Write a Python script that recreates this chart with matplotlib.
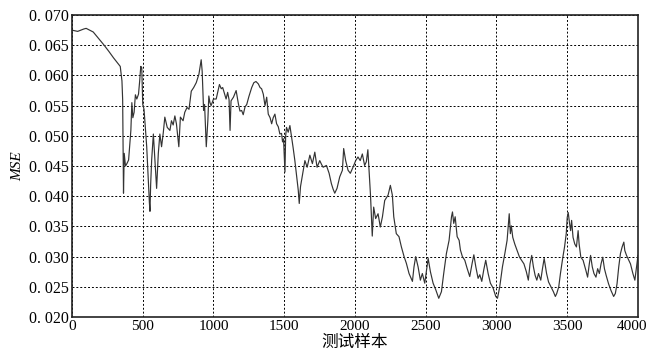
import matplotlib.pyplot as plt
import matplotlib.transforms as mtransforms
from matplotlib.ticker import FixedLocator

# values (test sample index, MSE)
samples = [
    0, 40, 84, 100, 150, 224, 260, 294, 341, 353, 358, 364, 369, 378, 388, 400,
    416, 423, 430, 439, 448, 458, 470, 478, 486, 493, 500, 509, 528, 547, 551, 556,
    563, 575, 586, 598, 610, 621, 633, 645, 656, 673, 692, 703, 715, 727, 738, 755,
    766, 785, 797, 813, 827, 843, 860, 878, 897, 913, 920, 930, 937, 949, 960, 967,
    975, 983, 1000, 1019, 1042, 1055, 1065, 1080, 1089, 1100, 1110, 1117, 1124, 1141, 1160, 1176,
    1187, 1199, 1210, 1223, 1235, 1250, 1270, 1285, 1300, 1317, 1329, 1340, 1352, 1364, 1376, 1387,
    1400, 1411, 1422, 1434, 1446, 1458, 1469, 1481, 1488, 1495, 1505, 1510, 1516, 1528, 1540, 1552,
    1563, 1575, 1587, 1599, 1606, 1615, 1625, 1634, 1646, 1662, 1681, 1699, 1716, 1732, 1751, 1765,
    1775, 1798, 1817, 1833, 1845, 1857, 1873, 1892, 1911, 1920, 1934, 1951, 1967, 1986, 2005, 2021,
    2037, 2052, 2068, 2080, 2091, 2098, 2110, 2116, 2122, 2132, 2146, 2163, 2179, 2194, 2210, 2234,
    2250, 2264, 2274, 2292, 2311, 2328, 2347, 2363, 2382, 2406, 2417, 2429, 2446, 2462, 2476, 2493,
    2509, 2517, 2533, 2552, 2571, 2592, 2611, 2627, 2646, 2665, 2682, 2689, 2698, 2708, 2722, 2736,
    2745, 2759, 2776, 2792, 2811, 2828, 2840, 2854, 2870, 2882, 2896, 2910, 2924, 2941, 2957, 2976,
    2995, 3007, 3023, 3042, 3059, 3075, 3090, 3098, 3105, 3115, 3129, 3146, 3163, 3177, 3194, 3211,
    3225, 3237, 3249, 3261, 3273, 3285, 3297, 3313, 3325, 3337, 3354, 3368, 3385, 3402, 3416, 3426,
    3440, 3452, 3469, 3481, 3493, 3500, 3507, 3517, 3524, 3531, 3541, 3553, 3565, 3577, 3584, 3596,
    3612, 3632, 3644, 3656, 3665, 3677, 3689, 3703, 3715, 3727, 3739, 3751, 3763, 3775, 3792, 3809,
    3828, 3840, 3852, 3864, 3876, 3888, 3900, 3907, 3919, 3935, 3947, 3964, 3978, 3990, 4000,
]
mse = [
    0.0675, 0.0673, 0.0677, 0.0678, 0.0672, 0.0651, 0.0640, 0.0629, 0.0615, 0.0591, 0.0560, 0.0405, 0.0471, 0.0450, 0.0454, 0.0460,
    0.0509, 0.0555, 0.0530, 0.0539, 0.0568, 0.0561, 0.0569, 0.0590, 0.0615, 0.0613, 0.0552, 0.0544, 0.0482, 0.0389, 0.0375, 0.0420,
    0.0460, 0.0503, 0.0460, 0.0413, 0.0471, 0.0503, 0.0482, 0.0505, 0.0531, 0.0514, 0.0509, 0.0525, 0.0518, 0.0533, 0.0520, 0.0482,
    0.0531, 0.0525, 0.0539, 0.0547, 0.0544, 0.0574, 0.0580, 0.0588, 0.0602, 0.0626, 0.0607, 0.0542, 0.0552, 0.0482, 0.0525, 0.0566,
    0.0555, 0.0550, 0.0561, 0.0561, 0.0585, 0.0578, 0.0580, 0.0568, 0.0561, 0.0572, 0.0560, 0.0509, 0.0558, 0.0564, 0.0575, 0.0553,
    0.0541, 0.0542, 0.0535, 0.0548, 0.0552, 0.0565, 0.0580, 0.0588, 0.0590, 0.0586, 0.0580, 0.0578, 0.0569, 0.0550, 0.0564, 0.0536,
    0.0530, 0.0520, 0.0530, 0.0536, 0.0520, 0.0515, 0.0503, 0.0504, 0.0490, 0.0495, 0.0440, 0.0500, 0.0514, 0.0506, 0.0517, 0.0498,
    0.0480, 0.0459, 0.0435, 0.0410, 0.0388, 0.0416, 0.0430, 0.0443, 0.0459, 0.0448, 0.0468, 0.0454, 0.0473, 0.0448, 0.0459, 0.0452,
    0.0448, 0.0451, 0.0438, 0.0421, 0.0412, 0.0405, 0.0413, 0.0432, 0.0443, 0.0479, 0.0459, 0.0443, 0.0438, 0.0448, 0.0459, 0.0465,
    0.0459, 0.0470, 0.0451, 0.0457, 0.0477, 0.0448, 0.0400, 0.0366, 0.0334, 0.0382, 0.0363, 0.0371, 0.0349, 0.0366, 0.0393, 0.0402,
    0.0418, 0.0402, 0.0366, 0.0338, 0.0333, 0.0316, 0.0300, 0.0289, 0.0272, 0.0259, 0.0283, 0.0300, 0.0283, 0.0261, 0.0272, 0.0256,
    0.0283, 0.0297, 0.0275, 0.0256, 0.0245, 0.0231, 0.0242, 0.0272, 0.0305, 0.0327, 0.0366, 0.0374, 0.0355, 0.0366, 0.0333, 0.0327,
    0.0311, 0.0300, 0.0294, 0.0281, 0.0267, 0.0289, 0.0303, 0.0283, 0.0264, 0.0270, 0.0259, 0.0278, 0.0294, 0.0272, 0.0256, 0.0248,
    0.0234, 0.0231, 0.0250, 0.0283, 0.0305, 0.0327, 0.0371, 0.0338, 0.0351, 0.0332, 0.0321, 0.0310, 0.0299, 0.0294, 0.0288, 0.0275,
    0.0261, 0.0288, 0.0302, 0.0283, 0.0269, 0.0261, 0.0272, 0.0261, 0.0280, 0.0297, 0.0272, 0.0258, 0.0250, 0.0242, 0.0234, 0.0239,
    0.0250, 0.0272, 0.0299, 0.0316, 0.0338, 0.0365, 0.0373, 0.0354, 0.0343, 0.0360, 0.0332, 0.0321, 0.0316, 0.0343, 0.0321, 0.0299,
    0.0294, 0.0277, 0.0266, 0.0288, 0.0302, 0.0283, 0.0272, 0.0266, 0.0280, 0.0272, 0.0288, 0.0299, 0.0280, 0.0269, 0.0255, 0.0244,
    0.0234, 0.0239, 0.0255, 0.0283, 0.0305, 0.0316, 0.0324, 0.0310, 0.0302, 0.0294, 0.0288, 0.0272, 0.0261, 0.0283, 0.0302,
]

xticks = [0, 500, 1000, 1500, 2000, 2500, 3000, 3500, 4000]
yticks = [0.020, 0.025, 0.030, 0.035, 0.040, 0.045, 0.050, 0.055, 0.060, 0.065, 0.070]
ytick_labels = ["0. 020", "0. 025", "0. 030", "0. 035", "0. 040", "0. 045",
                "0. 050", "0. 055", "0. 060", "0. 065", "0. 070"]

fig = plt.figure(figsize=(6.51, 3.59), dpi=100)
ax = fig.add_axes([0.1106, 0.117, 0.8694, 0.841])

ax.plot(samples, mse, color="#333333", lw=0.85)

ax.set_xlim(0, 4000)
ax.set_ylim(0.020, 0.070)
ax.xaxis.set_major_locator(FixedLocator(xticks))
ax.yaxis.set_major_locator(FixedLocator(yticks))
ax.set_xticklabels([str(t) for t in xticks], family="Liberation Serif", fontsize=11)
ax.set_yticklabels(ytick_labels, family="Liberation Serif", fontsize=11.5)
ax.tick_params(length=0, pad=2)

# the last x label sits a little left of its tick in the original, inside the figure
last = ax.get_xticklabels()[-1]
last.set_transform(last.get_transform() + mtransforms.ScaledTranslation(-6 / 100, 0, fig.dpi_scale_trans))

ax.grid(True, color="black", linestyle=(0, (2, 2)), lw=0.7)
for s in ax.spines.values():
    s.set_linewidth(1.2)
    s.set_color("#222222")

ax.set_xlabel("测试样本", family=["Noto Sans CJK SC", "DejaVu Sans"], fontsize=12, labelpad=1)
ax.set_ylabel("MSE", family="Liberation Serif", style="italic", fontsize=11, labelpad=4)

fig.savefig("out.png", dpi=100)
